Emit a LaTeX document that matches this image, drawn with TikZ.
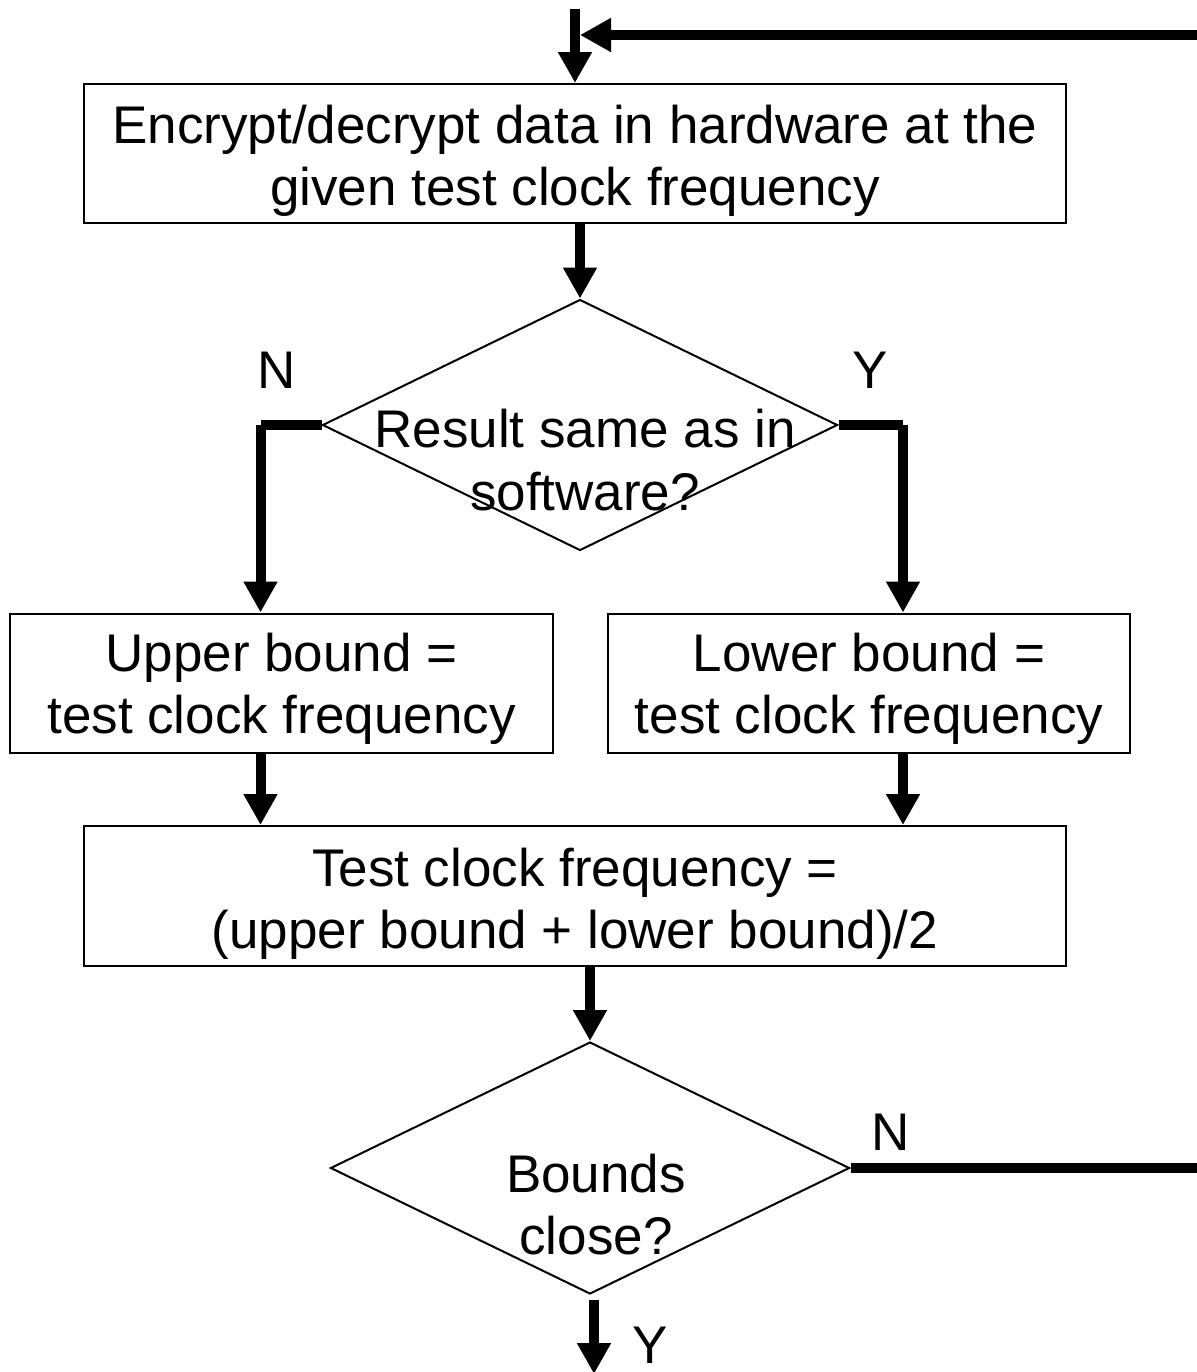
\documentclass[tikz,border=0pt]{standalone}
\usepackage{fontspec}
\setmainfont{Liberation Sans}
\usetikzlibrary{shapes.geometric,arrows.meta}
\begin{document}
\begin{tikzpicture}[x=0.5pt,y=-0.5pt,
  txt/.style={font=\fontsize{26.5}{31.2}\selectfont, align=center, inner sep=0pt},
  box/.style={draw, line width=1pt, inner sep=0pt, minimum height=69.5pt},
  dia/.style={draw, diamond, line width=1pt, inner sep=0pt},
  bar/.style={line width=5pt},
  flow/.style={line width=5pt, -{Triangle[length=15.5pt,width=16pt]}}]
  \useasboundingbox (0,0) rectangle (1197,1372);

  % process boxes and their texts
  \node[box, minimum width=491pt] (b1) at (575,153.5) {};
  \node[txt] (b1t) at ([yshift=-3.5pt]b1.center)
    {Encrypt/decrypt data in hardware at the\\given test clock frequency};
  \node[box, minimum width=271.5pt] (b2) at (281.5,683) {};
  \node[txt] (b2t) at ([yshift=-3pt]b2.center) {Upper bound =\\test clock frequency};
  \node[box, minimum width=261pt] (b3) at (869,683) {};
  \node[txt] (b3t) at ([yshift=-3pt]b3.center) {Lower bound =\\test clock frequency};
  \node[box, minimum width=491pt, minimum height=70pt] (b4) at (575,896) {};
  \node[txt] (b4t) at ([yshift=-4pt]b4.center)
    {Test clock frequency =\\(upper bound + lower bound)/2};

  % decisions
  \node[dia, minimum width=257.5pt, minimum height=125.5pt] (d1) at (580,425) {};
  \node[txt] (d1t) at (585,460) {Result same as in\\software?};
  \node[dia, minimum width=259.5pt, minimum height=126pt] (d2) at (590,1168) {};
  \node[txt] (d2t) at (596,1204.5) {Bounds\\close?};

  % branch labels
  \node[txt] (n1) at (277,370) {N};
  \node[txt] (y1) at (870,370) {Y};
  \node[txt] (n2) at (891,1132) {N};
  \node[txt] (y2) at (650,1345) {Y};

  % loop entry at the top
  \coordinate (top) at (575,9);
  \coordinate (loopR) at (1197,35);
  \coordinate (loopL) at (580,35);
  \draw[flow] (top) -- (b1.north);
  \draw[flow] (loopR) -- (loopL);

  % main flow
  \draw[flow] (b1.south -| d1.north) -- (d1.north);
  \coordinate (nl) at (260.5,425);
  \coordinate (nr) at (903,425);
  \draw[bar] (d1.west) -- (nl);
  \draw[flow] (nl) -- (b2.north -| nl);
  \draw[bar] (d1.east) -- (nr);
  \draw[flow] (nr) -- (b3.north -| nr);
  \draw[flow] (b2.south -| nl) -- (b4.north -| nl);
  \draw[flow] (b3.south -| nr) -- (b4.north -| nr);
  \draw[flow] (b4.south -| d2.north) -- (d2.north);

  % exits of the second decision
  \coordinate (exitR) at (1197,1168);
  \coordinate (exitB) at (594,1374);
  \draw[bar] (d2.east) -- (exitR);
  \draw[flow] ([xshift=2pt,yshift=-2.5pt]d2.south) -- (exitB);
\end{tikzpicture}
\end{document}
